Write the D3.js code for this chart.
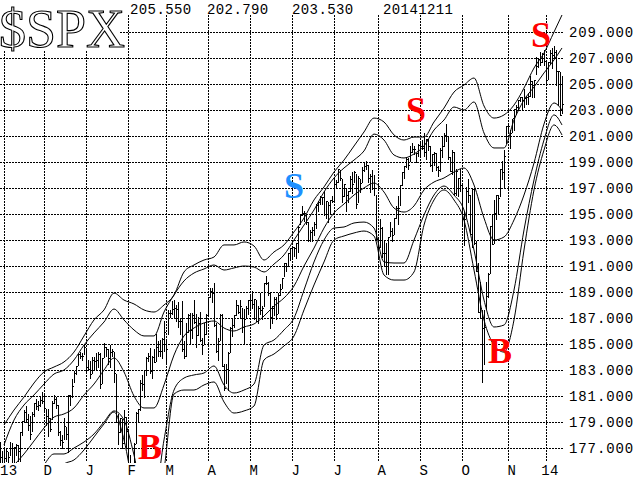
<!DOCTYPE html>
<html><head><meta charset="utf-8">
<script src="https://cdn.jsdelivr.net/npm/d3@7/dist/d3.min.js"></script>
<style>html,body{margin:0;padding:0;background:#fff;}svg{display:block;}</style>
</head><body>
<svg id="chart" width="640" height="480"></svg>
<script>
// ---- data (SPX / 10), trading-day index starts at -2 (30 Oct 2013) ----
const firstIndex = -2;
const hi = [177.5,176.8,
177.0,177.0,176.7,177.5,177.4,177.1,177.3,177.2,178.2,179.1,179.9,180.2,179.6,179.5,179.8,180.5,180.8,180.6,180.9,181.3,
181.1,180.0,180.0,179.3,180.6,181.1,180.9,180.3,178.3,178.0,179.3,178.6,181.1,181.1,182.3,182.9,183.3,184.2,184.4,184.3,184.9,
184.6,183.8,183.7,184.0,184.0,184.3,184.4,184.3,183.9,185.1,184.8,184.6,184.9,184.6,184.4,182.7,179.6,179.3,179.2,179.9,179.4,
178.4,176.5,175.6,177.4,179.8,180.0,182.2,182.6,183.0,184.0,184.3,184.7,184.1,184.6,185.8,185.2,185.3,185.5,186.8,
185.4,187.6,187.6,188.3,188.4,188.0,188.2,186.9,188.3,185.2,186.6,187.3,187.4,187.4,188.4,187.3,187.1,187.5,185.5,186.6,187.3,
188.6,189.3,189.3,189.7,186.6,185.5,187.3,187.3,183.5,183.5,184.4,186.3,186.9,187.2,188.4,188.0,188.4,187.8,187.7,187.9,188.4,
188.8,189.1,188.5,188.4,187.9,188.9,187.9,189.7,190.2,189.8,188.9,187.9,188.6,188.6,188.9,189.6,190.1,191.2,191.2,192.0,192.4,
192.5,192.5,192.8,194.1,194.9,195.6,195.2,195.0,194.4,193.8,194.0,194.4,195.8,196.0,196.4,196.3,196.8,196.0,195.9,196.1,196.4,
197.8,197.6,198.5,198.4,197.7,197.3,196.9,196.8,197.9,198.2,198.3,198.1,197.9,197.7,198.6,198.9,199.1,198.8,198.1,198.4,198.0,196.5,
193.2,194.6,194.0,192.9,192.8,193.2,194.4,193.9,194.7,195.6,196.4,197.2,198.2,198.7,199.4,199.3,200.2,200.5,200.2,199.7,200.4,
200.6,200.7,201.2,200.8,200.8,200.2,199.6,199.8,199.7,198.7,200.1,201.0,201.2,201.9,201.0,199.4,199.9,199.8,198.5,197.8,198.5,
197.2,195.2,197.1,197.7,196.5,197.0,196.9,192.9,191.2,189.8,187.6,187.6,189.8,190.5,194.1,194.9,196.1,196.5,196.5,198.5,199.1,199.9,201.8,
202.0,201.5,202.3,203.1,203.4,203.8,204.0,204.0,204.6,204.1,204.3,205.6,205.2,205.3,207.1,207.0,207.5,207.4,207.6,
206.7,206.7,207.6,207.8,207.9,207.6,206.0,205.9,205.6];
const lo = [175.7,175.5,
175.2,176.0,175.4,176.5,174.6,174.6,176.5,176.0,176.0,178.0,179.0,179.0,178.4,177.7,178.3,179.5,180.0,179.9,180.2,180.5,
179.9,178.8,177.9,178.3,179.2,180.5,180.1,178.0,177.2,177.0,177.7,177.7,176.7,180.3,180.9,182.1,182.7,183.4,183.9,183.8,184.2,
182.8,183.0,182.4,182.8,183.1,183.1,183.2,181.6,182.0,184.0,184.1,183.5,183.2,184.1,182.1,179.0,177.3,178.2,177.0,177.4,177.0,
173.9,174.3,173.8,175.2,177.4,179.1,179.9,181.5,180.9,182.6,183.7,182.8,182.4,183.6,183.7,184.1,184.1,183.9,184.5,
183.5,185.8,187.1,187.3,187.1,186.8,186.3,185.8,184.5,183.9,184.1,185.9,185.0,185.5,186.6,184.8,185.7,185.2,184.2,185.0,185.8,
187.3,188.6,188.2,186.4,184.4,183.8,185.3,183.3,181.5,182.0,181.5,184.4,185.6,186.3,187.2,187.4,187.0,185.9,185.1,187.0,187.3,
187.8,187.8,186.9,186.8,186.6,187.3,186.9,187.9,189.6,188.8,186.2,186.6,187.2,186.9,187.4,188.8,189.3,190.2,190.6,191.1,191.5,
191.6,191.8,191.6,192.1,194.2,194.9,194.5,194.2,192.9,192.9,192.9,193.4,193.9,195.2,195.8,195.8,194.9,194.7,194.4,195.1,195.9,
196.1,197.1,197.5,197.6,195.9,196.4,195.2,195.9,196.8,196.6,197.5,195.5,195.9,196.7,197.5,198.3,198.5,197.5,196.7,196.9,196.5,193.0,
191.6,192.5,191.7,191.1,190.4,190.4,193.3,192.9,193.5,194.7,194.2,195.7,197.2,197.8,198.6,198.5,199.1,199.8,199.6,199.0,199.5,
199.5,200.0,199.5,199.2,199.9,198.7,198.3,198.8,198.4,197.9,198.3,199.4,200.2,200.6,199.2,198.3,198.1,196.5,196.5,196.4,196.8,
194.2,192.6,194.7,195.9,193.5,192.5,192.7,190.6,187.5,187.1,182.1,183.5,187.7,188.6,190.5,192.7,192.8,194.6,195.1,196.4,197.7,197.1,200.5,
201.4,200.1,201.3,201.5,202.7,203.0,203.7,203.1,203.2,203.5,203.5,204.1,204.0,204.0,205.8,206.3,206.5,206.7,206.5,
204.9,205.4,206.6,206.2,207.0,204.9,203.4,202.6,202.8];
const cl = [176.3,175.7,
176.2,176.8,176.3,177.0,174.7,177.1,177.2,176.8,178.2,179.1,179.8,179.2,178.8,178.1,179.6,180.5,180.2,180.3,180.7,180.6,
180.1,179.5,179.3,178.5,180.5,180.8,180.3,178.2,177.6,177.5,178.7,178.1,181.1,181.0,181.8,182.8,183.3,184.2,184.1,184.1,184.8,
183.2,183.1,182.7,183.8,183.7,183.8,184.2,181.9,183.9,184.8,184.6,183.9,184.4,184.5,182.8,179.0,178.2,179.3,177.4,179.4,178.3,
174.2,175.5,175.2,177.3,179.7,180.0,182.0,181.9,183.0,183.9,184.1,182.9,184.0,183.6,184.8,184.5,184.5,185.4,185.9,
184.6,187.4,187.4,187.7,187.8,187.7,186.8,186.8,184.6,184.1,185.9,187.2,186.1,187.2,186.7,185.7,186.6,185.3,184.9,185.8,187.2,
188.6,189.1,188.9,186.5,184.5,185.2,187.2,183.3,181.6,183.1,184.3,186.2,186.5,187.2,188.0,187.5,187.9,186.3,186.9,187.8,188.4,
188.4,188.1,188.5,186.8,187.8,187.6,187.8,189.7,189.7,188.9,187.1,187.8,188.5,187.3,188.8,189.2,190.1,191.2,191.0,192.0,192.4,
192.5,192.4,192.8,194.0,194.9,195.1,195.1,194.4,193.0,193.6,193.8,194.2,195.7,195.9,196.3,196.3,195.0,196.0,195.7,196.1,196.0,
197.3,197.5,198.5,197.8,196.4,197.3,196.5,196.8,197.7,197.3,198.2,195.8,197.8,197.4,198.4,198.7,198.8,197.8,197.9,197.0,197.0,193.1,
192.5,193.9,192.0,192.0,191.0,193.2,193.7,193.4,194.7,195.5,195.5,197.2,198.2,198.7,199.2,198.8,199.8,200.0,200.0,199.7,200.3,
200.2,200.1,199.8,200.8,200.2,198.8,199.6,199.7,198.6,198.4,199.9,200.2,201.1,201.0,199.4,198.3,199.8,196.6,198.3,197.8,197.2,
194.6,194.6,196.8,196.5,193.5,196.9,192.8,190.6,187.5,187.8,186.2,186.3,188.7,190.4,194.1,192.7,195.1,196.5,196.2,198.5,198.2,199.5,201.8,
201.8,201.2,202.4,203.1,203.2,203.8,204.0,203.8,203.9,204.0,204.1,205.2,204.9,205.3,206.4,206.9,206.7,207.3,206.8,
205.3,206.7,207.4,207.2,207.5,206.0,206.0,202.6,203.5];

// band lines, sampled every 5 trading days (index 0..275, then 279)
const bandIdx = [0,5,10,15,20,25,30,35,40,45,50,55,60,65,70,75,80,85,90,95,100,105,110,115,120,125,130,135,140,145,150,155,160,165,170,175,180,185,190,195,200,205,210,215,220,225,230,235,240,245,250,255,260,265,270,275,279];
const bandA = [178.77,179.92,180.92,182.0,182.85,183.23,183.62,184.38,185.62,186.85,187.62,188.92,188.38,188.08,187.62,187.46,188.0,188.77,190.54,191.08,191.46,191.69,192.62,192.62,192.85,192.54,191.46,192.08,192.62,193.62,194.69,196.08,197.08,198.23,199.15,200.23,201.31,202.38,202.08,201.08,200.69,200.92,200.92,202.08,203.15,204.38,204.92,205.46,203.31,202.38,202.62,203.38,204.69,206.23,207.38,209.0,210.31];
const bandB = [177.23,179.15,180.31,181.08,181.92,182.69,183.0,183.77,184.92,185.85,186.69,187.69,186.85,186.08,185.62,185.62,187.46,188.77,189.85,190.46,190.77,191.08,190.69,190.85,191.0,190.92,190.54,191.15,191.85,193.0,194.15,195.31,196.69,197.77,198.54,199.15,199.85,201.15,200.69,199.54,199.31,199.62,200.23,201.46,202.23,203.23,203.0,203.62,201.23,200.08,200.08,202.23,203.77,204.77,205.85,206.85,207.77];
const bandMid = [175.0,175.69,176.54,177.54,178.54,179.38,179.62,180.08,181.08,181.92,183.0,183.92,182.85,181.0,180.08,180.08,181.85,184.15,185.62,186.23,186.62,186.77,186.23,186.0,186.31,186.54,187.15,187.92,188.54,189.46,191.0,192.38,193.92,195.08,195.77,196.46,197.0,197.38,196.69,195.46,195.15,195.62,196.85,197.46,197.77,198.23,198.54,197.23,194.69,193.0,193.23,194.54,196.46,198.92,201.92,203.54,203.0];
const bandD = [171.46,172.23,173.38,174.38,175.69,176.54,176.54,177.0,177.46,178.08,179.0,179.85,179.15,176.46,173.0,173.0,177.62,181.46,182.38,182.62,182.77,183.31,181.85,181.23,181.46,181.92,184.92,185.31,186.08,187.0,189.15,191.31,193.0,193.92,194.0,194.31,194.38,193.92,191.31,191.23,191.23,193.0,194.92,196.46,197.15,196.46,195.31,192.23,188.38,186.31,186.46,189.15,193.77,197.62,200.69,202.62,201.85];
const bandE = [169.92,170.69,171.85,173.0,174.15,174.92,175.77,176.08,176.85,177.85,178.85,179.77,177.62,173.77,171.46,171.46,175.31,181.15,181.46,181.46,181.85,182.08,180.54,179.69,179.85,180.23,183.77,184.23,184.85,185.62,187.62,189.54,191.31,193.0,193.31,193.54,193.69,193.31,190.31,189.92,189.92,190.54,194.15,196.08,196.85,196.08,194.54,190.69,186.85,184.92,184.38,186.85,192.23,196.85,199.92,201.85,201.08];

const monthIdx = [0,20,41,62,81,102,123,144,165,187,208,229,252,271];
const monthLabels = ["13","D","J","F","M","A","M","J","J","A","S","O","N","14"];
const priceTicks = d3.range(177, 210, 2);
const headerTexts = ["205.550","202.790","203.530","20141211"];
const sigText = ["B","S","S","B","S"];
const sigIdx = [67,140,201,242,263.5];
const sigVal = [176.15,196.23,202.08,183.54,207.85];
const sigColor = ["#ff0000","#1e90ff","#ff0000","#ff0000","#ff0000"];

// ---- drawing ----
const svg = d3.select("#chart");
const x = d3.scaleLinear().domain([0, 279]).range([4, 562]);
const y = d3.scaleLinear().domain([177, 209]).range([448, 32]);
const plotL = 0, plotR = 563, plotT = 15, plotB = 462;

svg.append("rect").attr("width",640).attr("height",480).attr("fill","#fff");

const grid = svg.append("g").attr("stroke","#000").attr("stroke-width",1)
  .attr("stroke-dasharray","2,1").attr("shape-rendering","crispEdges");
grid.selectAll("line.h").data(priceTicks).join("line").attr("class","h")
  .attr("x1",plotL).attr("x2",plotR)
  .attr("y1",d=>Math.round(y(d))+0.5).attr("y2",d=>Math.round(y(d))+0.5);
grid.selectAll("line.v").data(monthIdx).join("line").attr("class","v")
  .attr("x1",d=>Math.round(x(d))+0.5).attr("x2",d=>Math.round(x(d))+0.5)
  .attr("y1",plotT).attr("y2",plotB);

svg.append("clipPath").attr("id","clip").append("rect")
  .attr("x",plotL).attr("y",plotT).attr("width",plotR-plotL+4).attr("height",plotB-plotT+1);
const plot = svg.append("g").attr("clip-path","url(#clip)");

// bands
const bandLine = d3.line().x((d,i)=>x(bandIdx[i])).y(d=>y(d)).curve(d3.curveMonotoneX);
[bandA, bandB, bandMid, bandD, bandE].forEach(b=>{
  plot.append("path").attr("d", bandLine(b)).attr("fill","none")
    .attr("stroke","#000").attr("stroke-width",1);
});

// HLC bars
const days = d3.range(hi.length);
const bars = plot.append("g").attr("fill","#000").attr("shape-rendering","crispEdges");
bars.selectAll("rect.r").data(days).join("rect").attr("class","r")
  .attr("x",i=>Math.round(x(i+firstIndex)))
  .attr("y",i=>Math.round(y(hi[i])))
  .attr("width",1)
  .attr("height",i=>Math.max(1, Math.round(y(lo[i]))-Math.round(y(hi[i]))+1));
bars.selectAll("rect.c").data(days).join("rect").attr("class","c")
  .attr("x",i=>Math.round(x(i+firstIndex))+1)
  .attr("y",i=>Math.round(y(cl[i])))
  .attr("width",1).attr("height",1);

// title box
svg.append("rect").attr("x",0).attr("y",0).attr("width",120).attr("height",50).attr("fill","#fff");
svg.append("text").attr("x",-1).attr("y",47)
  .attr("font-family","'Liberation Serif','Times New Roman',serif").attr("font-size",54)
  .attr("fill","#fff").attr("stroke","#000").attr("stroke-width",1.1)
  .text("$SPX");

// header values
const headerX = [130,207,292,383];
svg.selectAll("text.hdr").data(headerTexts).join("text").attr("class","hdr")
  .attr("x",(d,i)=>headerX[i]).attr("y",14)
  .attr("font-family","'Liberation Mono',monospace").attr("font-size",14)
  .attr("letter-spacing",0.4).attr("fill","#000").text(d=>d);

// right axis labels
svg.selectAll("text.yl").data(priceTicks).join("text").attr("class","yl")
  .attr("x",569).attr("y",d=>y(d)).attr("dy","0.36em")
  .attr("font-family","'Liberation Mono',monospace").attr("font-size",14)
  .attr("letter-spacing",0.9).attr("fill","#000")
  .text(d=>d3.format(".3f")(d));

// month labels (first one kept fully inside the picture)
svg.selectAll("text.ml").data(monthIdx).join("text").attr("class","ml")
  .attr("x",(d,i)=>i===0 ? 0 : Math.round(x(d))+4)
  .attr("y",475)
  .attr("text-anchor",(d,i)=>i===0 ? "start" : "middle")
  .attr("font-family","'Liberation Mono',monospace").attr("font-size",14)
  .attr("letter-spacing",0.4).attr("fill","#000")
  .text((d,i)=>monthLabels[i]);

// buy/sell signals
svg.selectAll("text.sig").data(sigText).join("text").attr("class","sig")
  .attr("x",(d,i)=>x(sigIdx[i])).attr("y",(d,i)=>y(sigVal[i]))
  .attr("font-family","'Liberation Serif','Times New Roman',serif")
  .attr("font-weight","bold").attr("font-size",36)
  .attr("fill",(d,i)=>sigColor[i]).text(d=>d);
</script>
</body></html>
